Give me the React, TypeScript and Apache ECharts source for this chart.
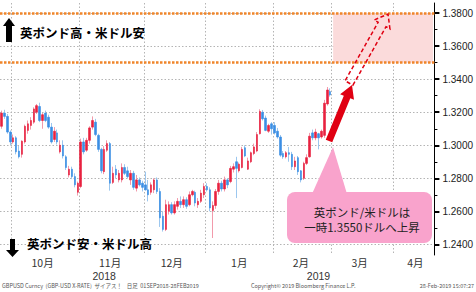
import React, { useEffect, useRef } from 'react';
import * as echarts from 'echarts';

const startDate = '2018-09-25';
const endDate = '2019-04-18';
const monthStarts = ['2018-10-01', '2018-11-01', '2018-12-03', '2019-01-01', '2019-02-01', '2019-03-01', '2019-04-01'];
const monthLabelDates = ['2018-10-15', '2018-11-15', '2018-12-14', '2019-01-16', '2019-02-14', '2019-03-14', '2019-04-10'];
const monthLabelTexts = ['10月', '11月', '12月', '1月', '2月', '3月', '4月'];
const yearLabelDates = ['2018-11-13', '2019-02-22'];
const yearLabelTexts = ['2018', '2019'];
const yTicks = [1.24, 1.26, 1.28, 1.3, 1.32, 1.34, 1.36, 1.38];
const yMinorTicks = [1.25, 1.27, 1.29, 1.31, 1.33, 1.35, 1.37];
const yMin = 1.2335;
const yMax = 1.3862;
const bandLines = [1.38, 1.35];
const targetZoneStart = '2019-03-01';

const open = [
  1.3115, 1.3195, 1.3175, 1.3080, 1.3020, 1.3045, 1.2965, 1.2945, 1.3020, 1.3090,
  1.3120, 1.3140, 1.3200, 1.3235, 1.3150, 1.3195, 1.3170, 1.3110, 1.3035, 1.3075,
  1.2960, 1.3000, 1.2930, 1.2820, 1.2855, 1.2810, 1.2715, 1.2750, 1.3020, 1.2970,
  1.3030, 1.3110, 1.3140, 1.3060, 1.2975, 1.2840, 1.2970, 1.3010, 1.2775, 1.2855,
  1.2790, 1.2790, 1.2865, 1.2845, 1.2790, 1.2830, 1.2740, 1.2790, 1.2770, 1.2760,
  1.2730, 1.2715, 1.2730, 1.2790, 1.2720, 1.2570, 1.2490, 1.2600, 1.2640, 1.2590,
  1.2630, 1.2660, 1.2640, 1.2670, 1.2640, 1.2700, 1.2715, 1.2640, 1.2660, 1.2700,
  1.2750, 1.2730, 1.2605, 1.2635, 1.2720, 1.2770, 1.2735, 1.2790, 1.2780, 1.2855,
  1.2900, 1.2845, 1.2865, 1.2985, 1.2855, 1.2900, 1.2950, 1.2965, 1.3070, 1.3200,
  1.3165, 1.3085, 1.3130, 1.3120, 1.3085, 1.3050, 1.2950, 1.2930, 1.2955, 1.2945,
  1.2870, 1.2925, 1.2845, 1.2800, 1.2890, 1.2930, 1.3075, 1.3045, 1.3070, 1.3050,
  1.3060, 1.3250, 1.3325,
];
const close = [
  1.3195, 1.3175, 1.3080, 1.3020, 1.3045, 1.2960, 1.2930, 1.3025, 1.3115, 1.3130,
  1.3150, 1.3220, 1.3240, 1.3150, 1.3185, 1.3150, 1.3110, 1.3020, 1.3085, 1.3020,
  1.3000, 1.2935, 1.2865, 1.2855, 1.2810, 1.2760, 1.2770, 1.3020, 1.2960, 1.3030,
  1.3105, 1.3150, 1.3065, 1.2975, 1.2845, 1.2975, 1.3010, 1.2770, 1.2830, 1.2820,
  1.2830, 1.2865, 1.2830, 1.2810, 1.2830, 1.2745, 1.2790, 1.2760, 1.2745, 1.2730,
  1.2700, 1.2760, 1.2790, 1.2720, 1.2560, 1.2490, 1.2640, 1.2640, 1.2590, 1.2640,
  1.2660, 1.2640, 1.2670, 1.2630, 1.2700, 1.2720, 1.2650, 1.2660, 1.2710, 1.2750,
  1.2730, 1.2620, 1.2635, 1.2720, 1.2770, 1.2735, 1.2790, 1.2760, 1.2860, 1.2870,
  1.2860, 1.2885, 1.2975, 1.2935, 1.2905, 1.2955, 1.2990, 1.3065, 1.3205, 1.3160,
  1.3090, 1.3120, 1.3100, 1.3075, 1.3050, 1.2940, 1.2930, 1.2955, 1.2945, 1.2870,
  1.2905, 1.2840, 1.2790, 1.2890, 1.2925, 1.3055, 1.3045, 1.3080, 1.3045, 1.3085,
  1.3255, 1.3335, 1.3305,
];
const low = [
  1.3100, 1.3160, 1.3070, 1.3000, 1.3010, 1.2945, 1.2920, 1.2925, 1.3010, 1.3070,
  1.3095, 1.3130, 1.3190, 1.3140, 1.3100, 1.3140, 1.3100, 1.3010, 1.3020, 1.3005,
  1.2950, 1.2920, 1.2850, 1.2805, 1.2795, 1.2745, 1.2695, 1.2740, 1.2945, 1.2960,
  1.3010, 1.3095, 1.3055, 1.2960, 1.2830, 1.2825, 1.2960, 1.2725, 1.2765, 1.2800,
  1.2775, 1.2775, 1.2820, 1.2800, 1.2760, 1.2730, 1.2720, 1.2750, 1.2720, 1.2725,
  1.2660, 1.2700, 1.2710, 1.2705, 1.2505, 1.2477, 1.2480, 1.2580, 1.2580, 1.2580,
  1.2610, 1.2620, 1.2620, 1.2615, 1.2630, 1.2690, 1.2630, 1.2620, 1.2650, 1.2680,
  1.2720, 1.2600, 1.2438, 1.2615, 1.2700, 1.2720, 1.2720, 1.2740, 1.2770, 1.2835,
  1.2680, 1.2835, 1.2860, 1.2928, 1.2850, 1.2892, 1.2940, 1.2958, 1.3065, 1.3150,
  1.3085, 1.3075, 1.3065, 1.3065, 1.3040, 1.2930, 1.2918, 1.2920, 1.2900, 1.2850,
  1.2850, 1.2820, 1.2775, 1.2790, 1.2880, 1.2925, 1.3030, 1.3030, 1.2975, 1.3040,
  1.3045, 1.3240, 1.3295,
];
const high = [
  1.3210, 1.3215, 1.3190, 1.3090, 1.3065, 1.3055, 1.2995, 1.3030, 1.3125, 1.3150,
  1.3170, 1.3230, 1.3250, 1.3258, 1.3195, 1.3210, 1.3185, 1.3135, 1.3110, 1.3095,
  1.3030, 1.3030, 1.2940, 1.2875, 1.2870, 1.2830, 1.2780, 1.3040, 1.3045, 1.3045,
  1.3115, 1.3175, 1.3160, 1.3070, 1.2985, 1.2995, 1.3030, 1.3020, 1.2870, 1.2880,
  1.2850, 1.2890, 1.2885, 1.2870, 1.2850, 1.2845, 1.2820, 1.2805, 1.2785, 1.2840,
  1.2790, 1.2775, 1.2800, 1.2805, 1.2740, 1.2600, 1.2670, 1.2660, 1.2655, 1.2660,
  1.2680, 1.2690, 1.2690, 1.2685, 1.2720, 1.2730, 1.2725, 1.2680, 1.2730, 1.2770,
  1.2770, 1.2745, 1.2660, 1.2735, 1.2790, 1.2785, 1.2810, 1.2800, 1.2875, 1.2890,
  1.2930, 1.2895, 1.2990, 1.3000, 1.2925, 1.2962, 1.3010, 1.3080, 1.3218, 1.3214,
  1.3180, 1.3130, 1.3140, 1.3140, 1.3105, 1.3062, 1.2965, 1.2965, 1.2990, 1.2960,
  1.2930, 1.2935, 1.2850, 1.2900, 1.2945, 1.3075, 1.3095, 1.3100, 1.3075, 1.3095,
  1.3275, 1.3353, 1.3345,
];

function weekdays(a: string, b: string): string[] {
  const out: string[] = [];
  const d = new Date(a + 'T00:00:00Z');
  const e = new Date(b + 'T00:00:00Z');
  while (d <= e) {
    const w = d.getUTCDay();
    if (w !== 0 && w !== 6) out.push(d.toISOString().slice(0, 10));
    d.setUTCDate(d.getUTCDate() + 1);
  }
  return out;
}

function arrowPoints(sx: number, sy: number, tx: number, ty: number, sh: number, hh: number, hl: number) {
  const dx = tx - sx, dy = ty - sy;
  const len = Math.sqrt(dx * dx + dy * dy);
  const ux = dx / len, uy = dy / len;
  const nx = -uy, ny = ux;
  const bx = tx - ux * hl, by = ty - uy * hl;
  return [
    [sx + nx * sh, sy + ny * sh],
    [bx + nx * sh, by + ny * sh],
    [bx + nx * hh, by + ny * hh],
    [tx, ty],
    [bx - nx * hh, by - ny * hh],
    [bx - nx * sh, by - ny * sh],
    [sx - nx * sh, sy - ny * sh],
  ];
}

const JP = '"Noto Sans CJK JP", "Noto Sans", sans-serif';

export default function App() {
  const ref = useRef<HTMLDivElement>(null);
  useEffect(() => {
    document.body.style.margin = '0';
    if (!ref.current) return;
    const chart = echarts.init(ref.current, undefined, { renderer: 'svg' });
    const cats = weekdays(startDate, endDate);
    const ohlc = open.map((o, i) => [o, close[i], low[i], high[i]]);
    const bodies = open.map((o, i) => [o, close[i], Math.min(o, close[i]), Math.max(o, close[i])]);
    const pink = '#f9a3cc';
    const txt = (x: number, y: number, text: string, font: string, fill: string, align = 'left') => ({
      type: 'text', x, y, z: 100,
      style: { text, font, fill, align, textAlign: align, verticalAlign: 'middle', textVerticalAlign: 'middle' },
    });
    chart.setOption({
      animation: false,
      grid: { left: 0, right: 41, top: 3, bottom: 37 },
      xAxis: [
        {
          type: 'category', data: cats, boundaryGap: true,
          axisLine: { show: false }, axisTick: { show: false },
          axisLabel: {
            interval: (i: number, v: string) => monthLabelDates.includes(v),
            formatter: (v: string) => monthLabelTexts[monthLabelDates.indexOf(v)] || '',
            fontSize: 10.5, lineHeight: 11, color: '#333', fontFamily: JP, margin: 2,
          },
          splitLine: {
            show: true,
            interval: (i: number, v: string) => monthStarts.includes(v),
            lineStyle: { color: '#b4b4b4', type: [1.5, 2], width: 1 },
          },
        },
        {
          type: 'category', data: cats, boundaryGap: true, position: 'bottom', offset: 13.5,
          axisLine: { show: false }, axisTick: { show: false }, splitLine: { show: false },
          axisLabel: {
            interval: (i: number, v: string) => yearLabelDates.includes(v),
            formatter: (v: string) => yearLabelTexts[yearLabelDates.indexOf(v)] || '',
            fontSize: 10.5, lineHeight: 11, color: '#333', fontFamily: '"Liberation Sans", sans-serif', margin: 2,
          },
        },
      ],
      yAxis: [
        {
          type: 'value', position: 'right', min: yMin, max: yMax, scale: true,
          axisLine: { show: true, lineStyle: { color: '#000', width: 1 } },
          axisTick: { show: true, inside: false, length: 5, customValues: yTicks, lineStyle: { color: '#000', width: 2 } },
          axisLabel: {
            customValues: yTicks, formatter: (v: number) => v.toFixed(4),
            fontSize: 10, color: '#222', fontFamily: '"Liberation Sans", sans-serif', margin: 8,
          },
          splitLine: { show: true, lineStyle: { color: '#b4b4b4', type: [1.5, 2], width: 1 } },
        },
        {
          type: 'value', position: 'right', min: yMin, max: yMax, scale: true,
          axisLine: { show: false },
          axisTick: { show: true, inside: false, length: 3, customValues: yMinorTicks, lineStyle: { color: '#000', width: 1 } },
          axisLabel: { show: false },
          splitLine: { show: false },
        },
      ],
      series: [
        {
          type: 'candlestick', data: ohlc, barWidth: 1, xAxisIndex: 0, yAxisIndex: 0,
          itemStyle: { color: '#f29aab', color0: '#9cc7ef', borderColor: '#f29aab', borderColor0: '#9cc7ef', borderWidth: 1 },
          markArea: {
            silent: true,
            itemStyle: { color: '#fbdbdb' },
            data: [[{ xAxis: targetZoneStart, yAxis: bandLines[1] }, { xAxis: cats[cats.length - 1], yAxis: bandLines[0] }]],
          },
          markLine: {
            silent: true, symbol: 'none', label: { show: false },
            lineStyle: { color: '#f0852a', type: [2.5, 1.5], width: 2.5 },
            data: bandLines.map((v) => ({ yAxis: v })),
          },
        },
        {
          type: 'candlestick', data: bodies, barWidth: 2, xAxisIndex: 0, yAxisIndex: 0, z: 3,
          itemStyle: { color: '#e8213f', color0: '#3b8ee4', borderColor: '#e8213f', borderColor0: '#3b8ee4', borderWidth: 0.6 },
        },
      ],
      graphic: [
        { type: 'polygon', z: 100, shape: { points: [[9, 18], [15, 26], [12, 26], [12, 42], [6, 42], [6, 26], [3, 26]] }, style: { fill: '#000' } },
        txt(20, 32, '英ポンド高・米ドル安', 'bold 12.5px ' + JP, '#000'),
        { type: 'polygon', z: 100, shape: { points: [[10, 239], [15, 239], [15, 250], [19, 250], [12.5, 257], [6, 250], [10, 250]] }, style: { fill: '#000' } },
        txt(27, 243, '英ポンド安・米ドル高', 'bold 12.5px ' + JP, '#000'),
        { type: 'polygon', z: 100, shape: { points: arrowPoints(329, 141, 352, 85, 3.5, 7.5, 13) }, style: { fill: '#e00012' } },
        { type: 'polygon', z: 100, shape: { points: arrowPoints(349, 83, 388, 14, 4.5, 9, 12) }, style: { fill: 'none', stroke: '#e00012', lineWidth: 1.5, lineDash: [4, 2.5] } },
        { type: 'polygon', z: 100, shape: { points: [[312, 194], [347, 194], [333, 147]] }, style: { fill: pink } },
        { type: 'rect', z: 100, shape: { x: 287, y: 192, width: 145, height: 51, r: 8 }, style: { fill: pink } },
        txt(362, 212, '英ポンド/米ドルは', '11.5px ' + JP, '#222', 'center'),
        txt(362, 227, '一時1.3550ドルへ上昇', '11.5px ' + JP, '#222', 'center'),
        txt(2, 286, 'GBPUSD Curncy  (GBP-USD X-RATE)  ザイアス！    日足  01SEP2018-28FEB2019', '5.5px ' + JP, '#555'),
        txt(251, 286, 'Copyright© 2019 Bloomberg Finance L.P.', '5.5px ' + JP, '#555'),
        txt(474, 286, '28-Feb-2019 15:07:27', '5.5px ' + JP, '#555', 'right'),
      ],
    });
    return () => chart.dispose();
  }, []);
  return <div ref={ref} style={{ width: 476, height: 292, position: 'fixed', left: 0, top: 0, background: '#fff' }} />;
}
